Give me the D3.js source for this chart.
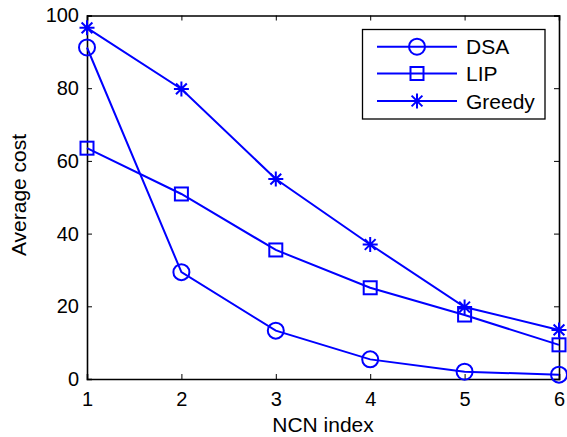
<!DOCTYPE html>
<html>
<head>
<meta charset="utf-8">
<script src="https://cdn.jsdelivr.net/npm/d3@7"></script>
<style>
  html, body { margin: 0; padding: 0; background: #fff; }
  svg { display: block; font-family: "Liberation Sans", Arial, Helvetica, sans-serif; }
</style>
</head>
<body>
<svg id="chart" width="567" height="437"></svg>
<script>
// NCN index on the x axis
const ncnIndex = [1, 2, 3, 4, 5, 6];
// Average cost per method
const dsa    = [91.2, 29.4, 13.3, 5.4, 2.0, 1.2];
const lip    = [63.5, 50.9, 35.5, 25.1, 17.6, 9.4];
const greedy = [96.6, 79.8, 55.0, 37.0, 19.8, 13.5];
const seriesNames = ["DSA", "LIP", "Greedy"];
const seriesMarkers = ["circle", "square", "star"];
const xTicks = [1, 2, 3, 4, 5, 6];
const yTicks = [0, 20, 40, 60, 80, 100];

const series = [dsa, lip, greedy].map((vals, i) => ({
  name: seriesNames[i], marker: seriesMarkers[i],
  points: vals.map((v, j) => ({ x: ncnIndex[j], y: v }))
}));

const blue = "#0000ff";
const tickFont = 20, labelFont = 21;
const plotLeft = 87, plotRight = 559, plotTop = 15.5, plotBottom = 379;

const svg = d3.select("#chart");
const x = d3.scaleLinear().domain([1, 6]).range([plotLeft, plotRight]);
const y = d3.scaleLinear().domain([0, 100]).range([plotBottom, plotTop]);

// Axes with inward ticks, box style
const tickLen = 5;
const axisG = svg.append("g");
const xAxis = d3.axisBottom(x).tickValues(xTicks).tickSize(-tickLen).tickPadding(13).tickFormat(d3.format("d"));
const yAxis = d3.axisLeft(y).tickValues(yTicks).tickSize(-tickLen).tickPadding(8).tickFormat(d3.format("d"));
const xTop = d3.axisTop(x).tickValues(xTicks).tickSize(-tickLen).tickFormat("");
const yRight = d3.axisRight(y).tickValues(yTicks).tickSize(-tickLen).tickFormat("");

const gx = axisG.append("g").attr("transform", `translate(0,${plotBottom})`).call(xAxis);
const gy = axisG.append("g").attr("transform", `translate(${plotLeft},0)`).call(yAxis);
const gxt = axisG.append("g").attr("transform", `translate(0,${plotTop})`).call(xTop);
const gyr = axisG.append("g").attr("transform", `translate(${plotRight},0)`).call(yRight);

[gx, gy, gxt, gyr].forEach(g => {
  g.select(".domain").attr("stroke", "#000").attr("stroke-width", 1.6);
  g.selectAll(".tick line").attr("stroke", "#000").attr("stroke-width", 1);
  g.selectAll(".tick text").attr("fill", "#000").attr("font-size", tickFont)
    .attr("font-family", "Liberation Sans, Arial, sans-serif");
});

// Axis labels
svg.append("text").attr("x", (plotLeft + plotRight) / 2).attr("y", 432)
  .attr("text-anchor", "middle").attr("font-size", labelFont).attr("fill", "#000")
  .text("NCN index");
svg.append("text")
  .attr("transform", `translate(26,195) rotate(-90)`)
  .attr("text-anchor", "middle").attr("font-size", labelFont).attr("fill", "#000")
  .text("Average cost");

// Marker drawing
function drawMarker(g, type, cx, cy) {
  if (type === "circle") {
    g.append("circle").attr("cx", cx).attr("cy", cy).attr("r", 8)
      .attr("fill", "none").attr("stroke", blue).attr("stroke-width", 2);
  } else if (type === "square") {
    const s = 13;
    g.append("rect").attr("x", cx - s / 2).attr("y", cy - s / 2).attr("width", s).attr("height", s)
      .attr("fill", "none").attr("stroke", blue).attr("stroke-width", 2);
  } else {
    const r = 7.5;
    const d = [];
    d.push(`M${cx - r},${cy}L${cx + r},${cy}`);
    d.push(`M${cx},${cy - r}L${cx},${cy + r}`);
    const k = r * 0.72;
    d.push(`M${cx - k},${cy - k}L${cx + k},${cy + k}`);
    d.push(`M${cx - k},${cy + k}L${cx + k},${cy - k}`);
    g.append("path").attr("d", d.join("")).attr("stroke", blue).attr("stroke-width", 2).attr("fill", "none");
  }
}

const line = d3.line().x(d => x(d.x)).y(d => y(d.y));
const plot = svg.append("g");
series.forEach(s => {
  const g = plot.append("g");
  g.append("path").datum(s.points).attr("d", line)
    .attr("fill", "none").attr("stroke", blue).attr("stroke-width", 2);
  s.points.forEach(p => drawMarker(g, s.marker, x(p.x), y(p.y)));
});

// Legend
const lg = svg.append("g");
lg.append("rect").attr("x", 362.5).attr("y", 29.5).attr("width", 182.5).attr("height", 89.5)
  .attr("fill", "#fff").attr("stroke", "#000").attr("stroke-width", 1.3);
const rowY = [46.7, 73.5, 101];
series.forEach((s, i) => {
  lg.append("line").attr("x1", 377).attr("x2", 457).attr("y1", rowY[i]).attr("y2", rowY[i])
    .attr("stroke", blue).attr("stroke-width", 2);
  drawMarker(lg, s.marker, 417, rowY[i]);
  lg.append("text").attr("x", 466).attr("y", rowY[i] + 7.5)
    .attr("font-size", labelFont).attr("fill", "#000").text(s.name);
});
</script>
</body>
</html>
